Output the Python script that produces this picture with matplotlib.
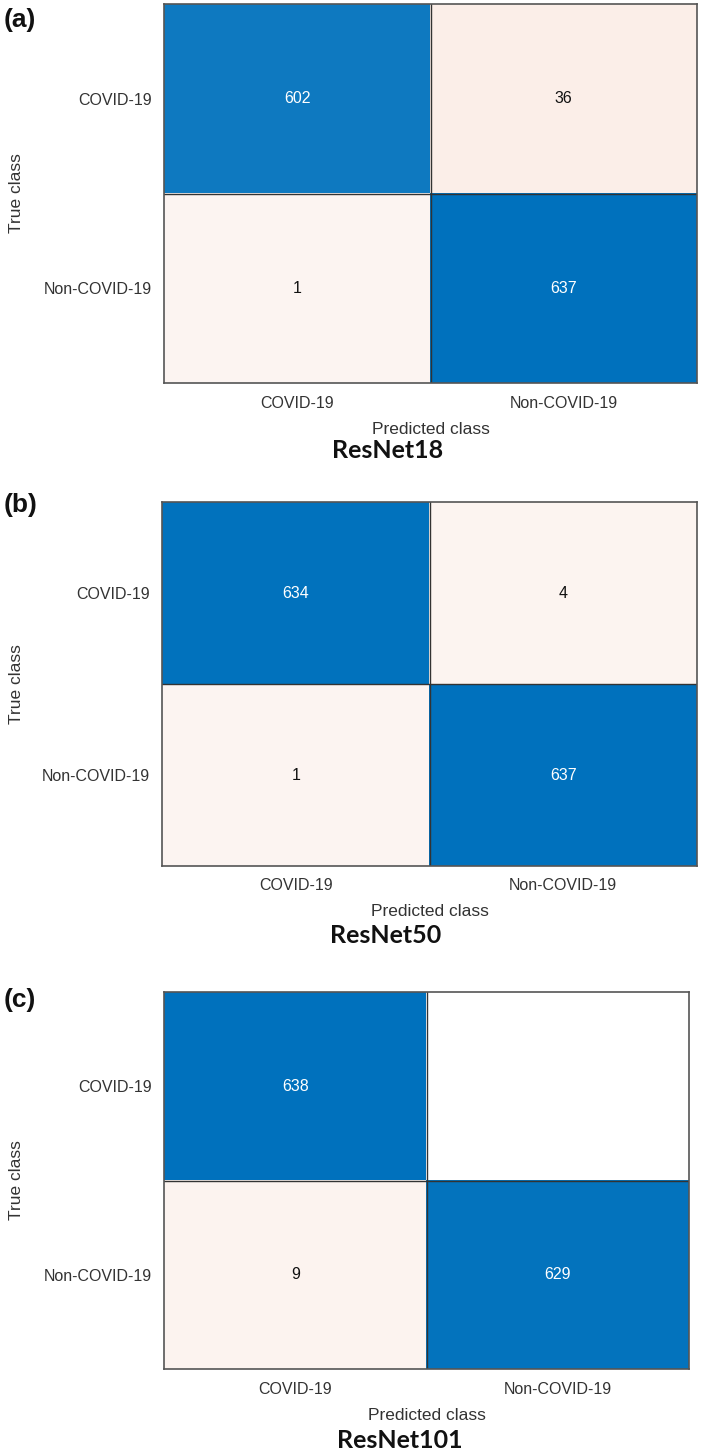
import numpy as np
import matplotlib
matplotlib.use("Agg")
import matplotlib.pyplot as plt

classes = ["COVID-19", "Non-COVID-19"]
models = ["ResNet18", "ResNet50", "ResNet101"]
panel_labels = ["(a)", "(b)", "(c)"]
cm_resnet18 = [[602, 36], [1, 637]]
cm_resnet50 = [[634, 4], [1, 637]]
cm_resnet101 = [[638, 0], [9, 629]]
matrices = [cm_resnet18, cm_resnet50, cm_resnet101]

W, H = 709, 1453
fig = plt.figure(figsize=(W / 100, H / 100), dpi=100)
fig.patch.set_facecolor("white")

# axes boxes in pixels: left, top, right, bottom
boxes = [(164, 4, 697, 383), (162, 502, 697, 866), (164, 992, 689, 1369)]
title_pos = [(388, 450), (386, 936), (400, 1440)]
label_pos = [(4, 20), (4, 505), (4, 1000)]

blue = np.array([0x00, 0x72, 0xBD]) / 255.0
orange = np.array([0xD9, 0x53, 0x19]) / 255.0
light = np.array([0xFD, 0xF5, 0xF2]) / 255.0
white = np.array([1.0, 1.0, 1.0])


def cell_color(v, vmax, diag):
    if v == 0:
        return white
    f = v / vmax
    if diag:
        return white + (blue - white) * f
    return light + (orange - light) * f * 0.75


for cm, name, plab, box, tpos, lpos in zip(matrices, models, panel_labels, boxes, title_pos, label_pos):
    cm = np.array(cm)
    l, t, r, b = box
    ax = fig.add_axes([l / W, 1 - b / H, (r - l) / W, (b - t) / H])
    vmax = cm.max()
    rgb = np.zeros((2, 2, 3))
    for i in range(2):
        for j in range(2):
            rgb[i, j] = cell_color(cm[i, j], vmax, i == j)
    ax.imshow(rgb, aspect="auto", extent=(-0.5, 1.5, 1.5, -0.5), interpolation="nearest")
    for i in range(2):
        for j in range(2):
            v = cm[i, j]
            if v == 0:
                continue
            dark = (i == j) and v / vmax > 0.5
            ax.text(j, i, str(v), ha="center", va="center", fontsize=11.5,
                    color="white" if dark else "#111111", family="Liberation Sans")
    ax.axhline(0.5, color="#333333", lw=1.0)
    ax.axvline(0.5, color="#333333", lw=1.0)
    for s in ax.spines.values():
        s.set_color("#555555")
        s.set_linewidth(1.2)
    ax.set_xticks([0, 1])
    ax.set_xticklabels(classes)
    ax.set_yticks([0, 1])
    ax.set_yticklabels(classes)
    ax.tick_params(length=0, labelsize=11.5, labelcolor="#333333", pad=9)
    for lab in ax.get_xticklabels() + ax.get_yticklabels():
        lab.set_family("Liberation Sans")
    ax.set_xlabel("Predicted class", fontsize=12.5, color="#333333", family="Liberation Sans")
    ax.set_ylabel("True class", fontsize=12.5, color="#333333", family="Liberation Sans")
    ax.yaxis.set_label_coords(-(l - 17) / (r - l), 0.5)
    ax.xaxis.label.set_va("center")
    ax.yaxis.label.set_va("center")
    ax.xaxis.set_label_coords(0.5, -46 / (b - t))

    fig.text(tpos[0] / W, 1 - tpos[1] / H, name, ha="center", va="center",
             fontsize=18, fontweight="bold", family="Lato", color="#111111")
    fig.text(lpos[0] / W, 1 - lpos[1] / H, plab, ha="left", va="center",
             fontsize=19, fontweight="bold", family="Liberation Sans", color="#111111")

fig.savefig("out.png", dpi=100, facecolor="white")
